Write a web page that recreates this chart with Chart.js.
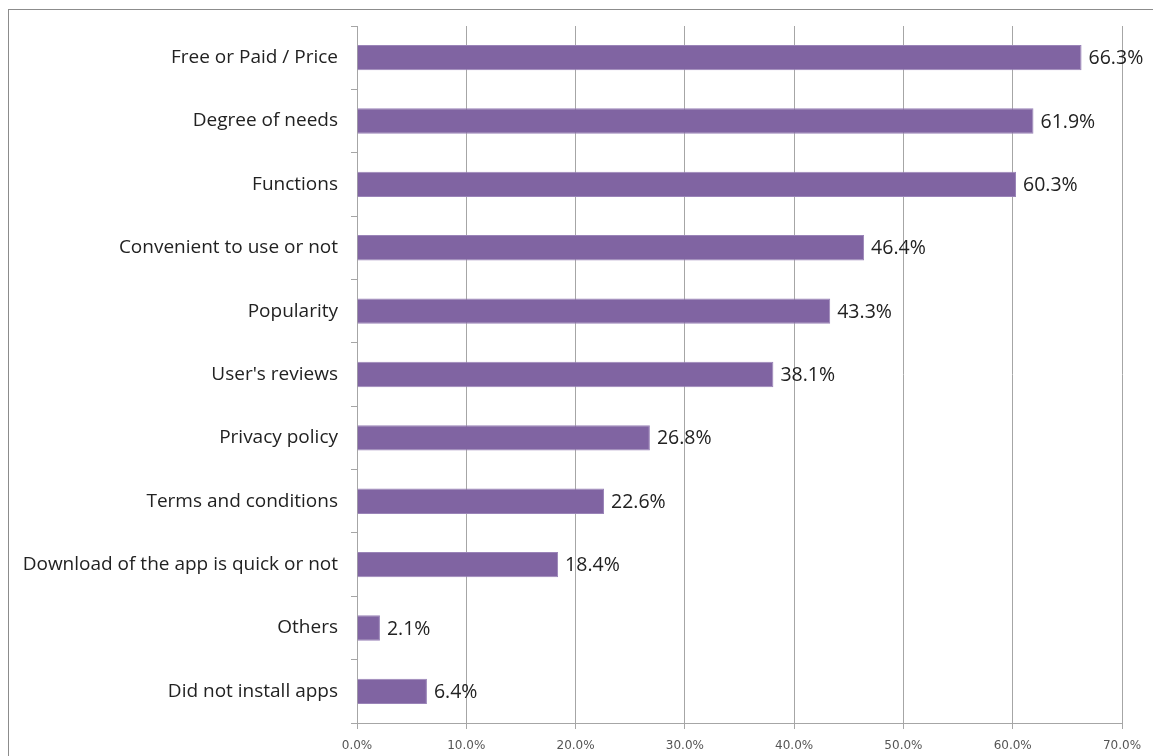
<!DOCTYPE html>
<html>
<head>
<meta charset="utf-8">
<script src="https://cdn.jsdelivr.net/npm/chart.js@4.4.1/dist/chart.umd.min.js"></script>
<style>
  html, body { margin: 0; padding: 0; background: #fff; }
  #wrap { width: 1153px; height: 756px; position: relative; }
</style>
</head>
<body>
<div id="wrap"><canvas id="chartFatores"></canvas></div>
<script>
const categorias = [
    "Free or Paid / Price",
    "Degree of needs",
    "Functions",
    "Convenient to use or not",
    "Popularity",
    "User's reviews",
    "Privacy policy",
    "Terms and conditions",
    "Download of the app is quick or not",
    "Others",
    "Did not install apps"
];
const valores = [66.3, 61.9, 60.3, 46.4, 43.3, 38.1, 26.8, 22.6, 18.4, 2.1, 6.4];
const ticksX = [0, 10, 20, 30, 40, 50, 60, 70];

const corBarra = '#8064A2';
const corGrade = '#a6a6a6';

// moldura cinza em volta do grafico
const moldura = {
    id: 'moldura',
    beforeDraw(chart) {
        const ctx = chart.ctx;
        ctx.save();
        ctx.strokeStyle = '#8c8c8c';
        ctx.lineWidth = 1;
        ctx.strokeRect(8.5, 9.5, 1300, 900);
        ctx.restore();
    }
};

// escreve o valor na ponta de cada barra
const rotulos = {
    id: 'rotulos',
    afterDatasetsDraw(chart) {
        const ctx = chart.ctx;
        const meta = chart.getDatasetMeta(0);
        ctx.save();
        ctx.font = '19.5px "Open Sans"';
        ctx.fillStyle = '#222';
        ctx.textAlign = 'left';
        ctx.textBaseline = 'middle';
        meta.data.forEach((barra, i) => {
            ctx.fillText(valores[i].toFixed(1) + '%', barra.x + 7, barra.y + 1);
        });
        ctx.restore();
    }
};

const ctxFatores = document.getElementById('chartFatores');

new Chart(ctxFatores, {
    type: 'bar',
    data: {
        labels: categorias,
        datasets: [{
            data: valores,
            backgroundColor: corBarra,
            borderColor: '#9a84b8',
            borderWidth: 1,
            barPercentage: 0.4,
            categoryPercentage: 1
        }]
    },
    options: {
        indexAxis: 'y',
        responsive: true,
        maintainAspectRatio: false,
        animation: false,
        layout: {
            padding: { top: 26, right: 31, left: 0, bottom: 0 }
        },
        plugins: {
            legend: { display: false },
            tooltip: { enabled: false }
        },
        scales: {
            x: {
                min: 0,
                max: 70,
                afterBuildTicks(scale) {
                    scale.ticks = ticksX.map(v => ({ value: v }));
                },
                afterFit(scale) {
                    scale.height = 33;
                },
                grid: {
                    color: corGrade,
                    lineWidth: 1,
                    tickLength: 6,
                    drawTicks: true
                },
                border: { color: corGrade },
                ticks: {
                    padding: 10,
                    color: '#555',
                    font: { family: '"DejaVu Sans"', size: 12 },
                    callback: v => v.toFixed(1) + '%'
                }
            },
            y: {
                afterFit(scale) {
                    scale.width = 357;
                },
                grid: {
                    offset: true,
                    drawOnChartArea: false,
                    color: corGrade,
                    tickLength: 6
                },
                border: { color: corGrade },
                ticks: {
                    padding: 13,
                    color: '#222',
                    font: { family: '"Open Sans"', size: 19 }
                }
            }
        }
    },
    plugins: [moldura, rotulos]
});
</script>
</body>
</html>
